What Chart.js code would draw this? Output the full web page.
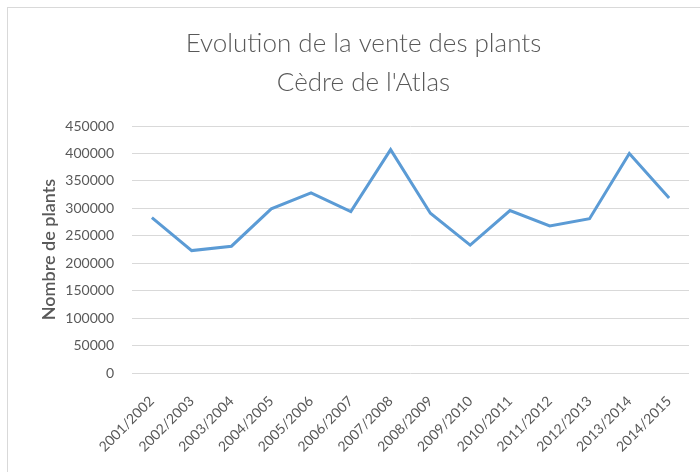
<!DOCTYPE html>
<html>
<head>
<meta charset="utf-8">
<script src="https://cdn.jsdelivr.net/npm/chart.js@4/dist/chart.umd.min.js"></script>
<style>
  html, body { margin: 0; padding: 0; background: #fff; }
  #wrap { position: relative; width: 700px; height: 472px; }
  #frame { position: absolute; left: 7px; top: 7px; width: 700px; height: 480px; border: 1px solid #d9d9d9; box-sizing: border-box; pointer-events: none; }
</style>
</head>
<body>
<div id="wrap">
  <canvas id="salesChart" width="700" height="472"></canvas>
  <div id="frame"></div>
</div>
<script>
const seasons = ["2001/2002", "2002/2003", "2003/2004", "2004/2005", "2005/2006", "2006/2007", "2007/2008",
    "2008/2009", "2009/2010", "2010/2011", "2011/2012", "2012/2013", "2013/2014", "2014/2015"];
const plants = [283000, 223000, 231000, 299000, 328000, 294000, 407000,
    291000, 233000, 296000, 268000, 281000, 400000, 319000];
const yTicks = [0, 50000, 100000, 150000, 200000, 250000, 300000, 350000, 400000, 450000];

const textColor = '#595959';
const gridColor = '#d9d9d9';
const lineColor = '#5b9bd5';
const fontFamily = 'Lato';

new Chart(document.getElementById('salesChart'), {
    type: 'line',
    data: {
        labels: seasons,
        datasets: [{ data: plants, borderColor: lineColor, borderWidth: 3, pointRadius: 0, tension: 0, fill: false }]
    },
    options: {
        responsive: false, animation: false,
        layout: { padding: { top: 24, left: 38, right: 11, bottom: 0 } },
        scales: {
            y: {
                min: 0, max: 450000,
                afterBuildTicks: s => { s.ticks = yTicks.map(v => ({ value: v })); },
                afterFit: s => { s.width = 94; },
                title: { display: true, text: 'Nombre de plants', color: textColor, font: { family: fontFamily, size: 18, weight: '600' }, padding: 0 },
                ticks: { color: textColor, font: { family: fontFamily, size: 14 }, padding: 18, callback: v => String(v) },
                grid: { color: gridColor, drawTicks: false },
                border: { display: false }
            },
            x: {
                offset: true,
                afterFit: s => { s.height = 99; },
                ticks: { color: textColor, font: { family: fontFamily, size: 14 }, minRotation: 45, maxRotation: 45, autoSkip: false, padding: 12 },
                grid: { display: false, offset: true },
                border: { display: false }
            }
        },
        plugins: {
            legend: { display: false },
            tooltip: { enabled: false },
            title: {
                display: true, text: ["Evolution de la vente des plants", "Cèdre de l'Atlas"],
                color: textColor, font: { family: fontFamily, size: 26, weight: '300', lineHeight: 1.5 },
                padding: { top: 0, bottom: 24 }
            }
        }
    }
});
</script>
</body>
</html>
